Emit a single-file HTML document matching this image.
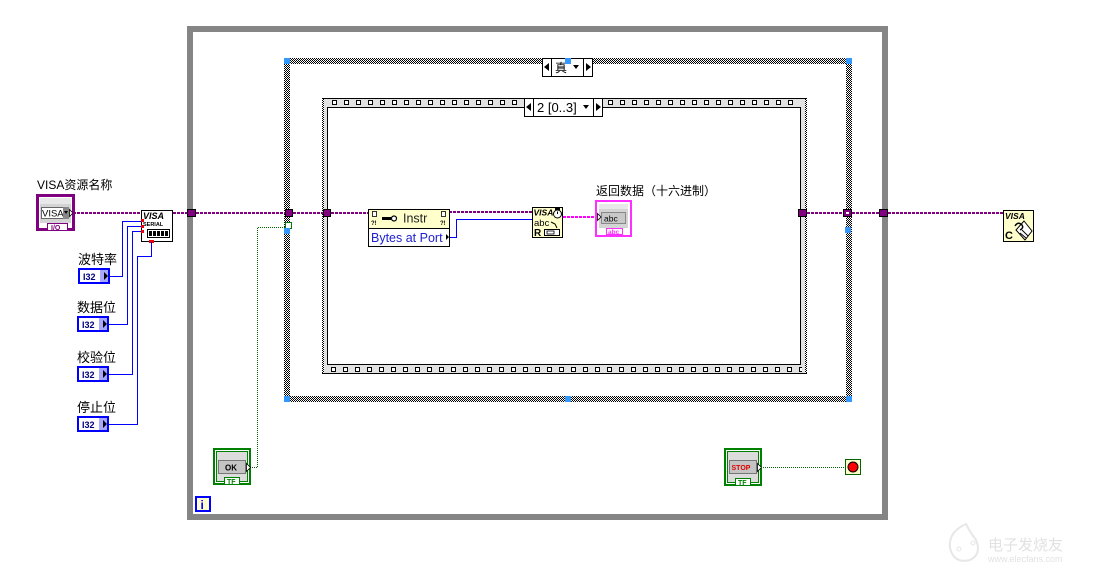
<!DOCTYPE html>
<html><head><meta charset="utf-8"><style>
html,body{margin:0;padding:0;background:#fff;}
svg{display:block;}
text{font-family:"Liberation Sans","Noto Sans CJK SC",sans-serif;}
</style></head><body>
<svg width="1096" height="576" viewBox="0 0 1096 576" xmlns="http://www.w3.org/2000/svg">
<defs>
<pattern id="chk" width="2" height="2" patternUnits="userSpaceOnUse">
<rect width="2" height="2" fill="#fff"/>
<rect width="1" height="1" fill="#000"/>
<rect x="1" y="1" width="1" height="1" fill="#000"/>
</pattern>
<pattern id="filmT" x="327" y="98" width="12" height="9" patternUnits="userSpaceOnUse">
<rect width="12" height="9" fill="#e2e2e2"/>
<rect x="5.5" y="2.5" width="4" height="4" fill="#fff" stroke="#000" stroke-width="1"/>
</pattern>
<pattern id="filmB" x="326" y="365" width="12" height="9" patternUnits="userSpaceOnUse">
<rect width="12" height="9" fill="#e2e2e2"/>
<rect x="5.5" y="2.5" width="4" height="4" fill="#fff" stroke="#000" stroke-width="1"/>
</pattern>
</defs>
<rect width="1096" height="576" fill="#fff"/>

<!-- While loop -->
<rect x="190" y="29" width="695" height="488" fill="none" stroke="#858585" stroke-width="6"/>

<!-- Case structure -->
<rect x="284" y="58" width="568" height="6" fill="url(#chk)"/>
<rect x="284" y="396" width="568" height="6" fill="url(#chk)"/>
<rect x="284" y="58" width="6" height="344" fill="url(#chk)"/>
<rect x="846" y="58" width="6" height="344" fill="url(#chk)"/>
<rect x="284" y="58" width="6" height="6" fill="#3399ff"/>
<rect x="846" y="58" width="6" height="6" fill="#3399ff"/>
<rect x="284" y="396" width="6" height="6" fill="#3399ff"/>
<rect x="846" y="396" width="6" height="6" fill="#3399ff"/>
<rect x="565" y="396" width="6" height="6" fill="#3399ff"/>

<!-- Case selector -->
<rect x="542.5" y="58.5" width="50" height="18" fill="#fff" stroke="#000"/>
<line x1="551.5" y1="58.5" x2="551.5" y2="76.5" stroke="#000"/>
<line x1="583.5" y1="58.5" x2="583.5" y2="76.5" stroke="#000"/>
<polygon points="549,63 549,71 544,67" fill="#000"/>
<polygon points="586,63 586,71 591,67" fill="#000"/>
<polygon points="573,65 579,65 576,69" fill="#000"/>
<text x="555" y="72" font-size="12" fill="#000">真</text>
<rect x="565" y="58" width="6" height="6" fill="#3399ff"/>

<!-- Sequence structure -->
<rect x="322" y="98" width="485" height="276" fill="#e2e2e2"/>
<rect x="322" y="98" width="2" height="276" fill="url(#chk)"/>
<rect x="805" y="98" width="2" height="276" fill="url(#chk)"/>
<rect x="327" y="98" width="473" height="9" fill="url(#filmT)"/>
<rect x="324" y="365" width="478" height="9" fill="url(#filmB)"/>
<line x1="322" y1="98.5" x2="807" y2="98.5" stroke="#000"/>
<line x1="322" y1="373.5" x2="807" y2="373.5" stroke="#000"/>
<rect x="327.5" y="107.5" width="473" height="257" fill="#fff" stroke="#000"/>

<!-- Sequence selector -->
<rect x="524.5" y="98.5" width="78" height="18" fill="#fff" stroke="#000"/>
<line x1="533.5" y1="98.5" x2="533.5" y2="116.5" stroke="#000"/>
<line x1="593.5" y1="98.5" x2="593.5" y2="116.5" stroke="#000"/>
<polygon points="531,103 531,111 526,107" fill="#000"/>
<polygon points="596,103 596,111 601,107" fill="#000"/>
<polygon points="583,105 589,105 586,109" fill="#000"/>
<text x="537" y="112" font-size="13" fill="#000">2 [0..3]</text>

<!-- Left controls -->
<text x="37" y="189" font-size="12" fill="#000">VISA资源名称</text>
<rect x="36" y="194" width="39" height="37" fill="#800080"/>
<rect x="38.5" y="196.5" width="34" height="32" fill="#fff" stroke="#800080"/>
<rect x="40" y="198" width="31" height="25" fill="#d4d4d4"/>
<rect x="40" y="198" width="31" height="6" fill="#e8e8e8"/>
<rect x="41.5" y="207.5" width="22" height="11" fill="#fff" stroke="#666"/>
<text x="42" y="216.5" font-size="9.5" fill="#000">VISA</text>
<rect x="63" y="207" width="6" height="12" fill="#888"/>
<polygon points="64,211 68,211 66,214" fill="#000"/>
<polygon points="69.5,209.5 69.5,216.5 73,213" fill="#fff" stroke="#000" stroke-width="0.8"/>
<rect x="47.5" y="223.5" width="20" height="7" fill="#fff" stroke="#800080"/>
<text x="51" y="230" font-size="7" font-weight="bold" fill="#800080">I/O</text>

<!-- Config serial -->
<rect x="141.5" y="210.5" width="31" height="31" fill="#fff" stroke="#000"/>
<text x="143" y="219" font-size="9" font-style="italic" font-weight="bold" fill="#000">VISA</text>
<text x="143" y="226" font-size="5.5" font-weight="bold" fill="#000">SERIAL</text>
<rect x="147.5" y="229.5" width="22" height="8" fill="#fff" stroke="#000"/>
<rect x="149" y="231" width="3" height="5" fill="#000"/>
<rect x="153" y="231" width="3" height="5" fill="#000"/>
<rect x="157" y="231" width="3" height="5" fill="#000"/>
<rect x="161" y="231" width="3" height="5" fill="#000"/>
<rect x="165" y="231" width="3" height="5" fill="#000"/>
<rect x="141" y="219" width="3" height="3" fill="#e00"/>
<rect x="141" y="225" width="3" height="3" fill="#e00"/>
<rect x="141" y="230" width="3" height="3" fill="#e00"/>
<rect x="149" y="240" width="5" height="3" fill="#e00"/>

<!-- I32 controls -->
<text x="78" y="264" font-size="13" fill="#000">波特率</text>
<text x="77" y="312" font-size="13" fill="#000">数据位</text>
<text x="77" y="362" font-size="13" fill="#000">校验位</text>
<text x="77" y="412" font-size="13" fill="#000">停止位</text>
<g>
<rect x="78" y="268" width="32" height="16" fill="#0000ff"/>
<rect x="80" y="270" width="28" height="12" fill="#fff"/>
<rect x="100" y="270" width="8" height="12" fill="#a8a8ff"/>
<text x="83" y="280" font-size="9" font-weight="bold" fill="#000080">I32</text>
<polygon points="104,272 104,280 108,276" fill="#000"/>
</g>
<g>
<rect x="77" y="316" width="32" height="16" fill="#0000ff"/>
<rect x="79" y="318" width="28" height="12" fill="#fff"/>
<rect x="99" y="318" width="8" height="12" fill="#a8a8ff"/>
<text x="82" y="328" font-size="9" font-weight="bold" fill="#000080">I32</text>
<polygon points="103,320 103,328 107,324" fill="#000"/>
</g>
<g>
<rect x="77" y="366" width="32" height="16" fill="#0000ff"/>
<rect x="79" y="368" width="28" height="12" fill="#fff"/>
<rect x="99" y="368" width="8" height="12" fill="#a8a8ff"/>
<text x="82" y="378" font-size="9" font-weight="bold" fill="#000080">I32</text>
<polygon points="103,370 103,378 107,374" fill="#000"/>
</g>
<g>
<rect x="77" y="416" width="32" height="16" fill="#0000ff"/>
<rect x="79" y="418" width="28" height="12" fill="#fff"/>
<rect x="99" y="418" width="8" height="12" fill="#a8a8ff"/>
<text x="82" y="428" font-size="9" font-weight="bold" fill="#000080">I32</text>
<polygon points="103,420 103,428 107,424" fill="#000"/>
</g>

<!-- Blue wires left -->
<g fill="none" stroke="#0000ff" stroke-width="1">
<polyline points="109,276.5 122.5,276.5 122.5,221.5 141,221.5"/>
<polyline points="108,324.5 127.5,324.5 127.5,226.5 141,226.5"/>
<polyline points="108,374.5 132.5,374.5 132.5,231.5 141,231.5"/>
<polyline points="108,424.5 137.5,424.5 137.5,256.5 151.5,256.5 151.5,242"/>
</g>

<!-- Purple wires -->
<g fill="none" stroke="#800080" stroke-width="2" stroke-dasharray="3 1">
<line x1="73" y1="213" x2="141" y2="213"/>
<line x1="173" y1="213" x2="187" y2="213"/>
<line x1="196" y1="213" x2="285" y2="213"/>
<line x1="293" y1="213" x2="323" y2="213"/>
<line x1="331" y1="213" x2="368" y2="213"/>
<line x1="449" y1="212" x2="532" y2="212"/>
<line x1="807" y1="213" x2="843" y2="213"/>
<line x1="852" y1="213" x2="879" y2="213"/>
<line x1="888" y1="213" x2="1003" y2="213"/>
</g>
<line x1="563" y1="217" x2="596" y2="217" stroke="#ff00ff" stroke-width="2" stroke-dasharray="3 1"/>

<!-- Tunnels -->
<rect x="187.5" y="209.5" width="8" height="7" fill="#800080" stroke="#000"/>
<rect x="285.5" y="209.5" width="7" height="7" fill="#800080" stroke="#000"/>
<rect x="323.5" y="209.5" width="7" height="7" fill="#800080" stroke="#000"/>
<rect x="798.5" y="209.5" width="8" height="7" fill="#800080" stroke="#000"/>
<rect x="843.5" y="209.5" width="8" height="7" fill="#800080" stroke="#000"/>
<rect x="846" y="212" width="3" height="2" fill="#fff"/>
<rect x="879.5" y="209.5" width="8" height="7" fill="#800080" stroke="#000"/>

<!-- Case selector terminal -->
<rect x="285.5" y="222.5" width="6" height="6" fill="#fff" stroke="#008000"/>
<rect x="284" y="228" width="6" height="6" fill="#3399ff"/>
<rect x="845" y="227" width="6" height="6" fill="#3399ff"/>

<!-- OK green wire -->
<polyline points="250,467.5 257.5,467.5 257.5,227.5 285,227.5" fill="none" stroke="#006400" stroke-width="1" stroke-dasharray="1 1"/>

<!-- Property node -->
<rect x="368.5" y="209.5" width="81" height="37" fill="#fff" stroke="#000"/>
<rect x="369" y="210" width="80" height="18" fill="#ffffcc"/>
<line x1="368.5" y1="228.5" x2="449.5" y2="228.5" stroke="#000"/>
<rect x="372.5" y="211.5" width="4" height="5" fill="#fff" stroke="#000" stroke-width="0.8"/>
<text x="371" y="225" font-size="6" font-weight="bold" fill="#000">?!</text>
<rect x="441.5" y="211.5" width="4" height="5" fill="#fff" stroke="#000" stroke-width="0.8"/>
<text x="440" y="225" font-size="6" font-weight="bold" fill="#000">?!</text>
<rect x="382" y="217" width="9" height="3" fill="#000"/>
<circle cx="394" cy="218.5" r="2.5" fill="#fff" stroke="#000" stroke-width="1.2"/>
<text x="403" y="222.5" font-size="12.5" fill="#222">Instr</text>
<text x="371" y="242" font-size="12.5" fill="#2020d0">Bytes at Port</text>
<polygon points="446,234 446,240 449,237" fill="#000"/>

<!-- Blue wire prop->read -->
<polyline points="450,237.5 456.5,237.5 456.5,219.5 532,219.5" fill="none" stroke="#0000ff" stroke-width="1"/>

<!-- VISA read -->
<rect x="532.5" y="207.5" width="30" height="30" fill="#ffffcc" stroke="#000"/>
<text x="533.5" y="215.5" font-size="8.5" font-style="italic" font-weight="bold" fill="#000">VISA</text>
<circle cx="557.5" cy="214" r="4" fill="#fff" stroke="#000"/>
<rect x="555" y="208" width="5" height="2" fill="#000"/>
<line x1="557.5" y1="214" x2="557.5" y2="211.5" stroke="#000"/>
<text x="534" y="226" font-size="9.5" fill="#000">abc</text>
<polyline points="551,222 555,224 557,228" fill="none" stroke="#000"/>
<text x="534" y="236" font-size="10" font-weight="bold" fill="#000">R</text>
<rect x="544.5" y="229.5" width="15" height="6" fill="#fff" stroke="#000"/>
<rect x="547" y="231" width="7" height="3" fill="none" stroke="#000" stroke-width="0.8"/>

<!-- Indicator -->
<text x="596" y="195" font-size="12" fill="#000">返回数据（十六进制）</text>
<rect x="596" y="201" width="35" height="35" fill="#fff" stroke="#ff30ff" stroke-width="2"/>
<rect x="599" y="204" width="29" height="24" fill="#d4d4d4"/>
<rect x="599" y="204" width="29" height="5" fill="#e8e8e8"/>
<rect x="601.5" y="212.5" width="24" height="11" fill="#c8c8c8" stroke="#888"/>
<text x="604" y="221.5" font-size="8.5" fill="#000">abc</text>
<polygon points="597.5,213.5 597.5,220.5 601,217" fill="#fff" stroke="#000" stroke-width="0.8"/>
<rect x="606.5" y="228.5" width="16" height="6" fill="#fff" stroke="#ff30ff"/>
<text x="608" y="234" font-size="6.5" font-weight="bold" fill="#ff30ff">abc</text>

<!-- VISA close -->
<rect x="1003.5" y="210.5" width="30" height="31" fill="#ffffcc" stroke="#000"/>
<text x="1005" y="219" font-size="8.5" font-style="italic" font-weight="bold" fill="#000">VISA</text>
<text x="1005" y="239" font-size="11" font-weight="bold" fill="#000">C</text>
<polygon points="1024,221 1032,231 1025,240 1016,230" fill="#fff" stroke="#000"/>
<path d="M1015,226 q3,-5 7,-1 q2,3 -2,5" fill="none" stroke="#000" stroke-width="1.5"/>
<line x1="1022" y1="230" x2="1028" y2="236" stroke="#000"/>
<line x1="1020" y1="233" x2="1026" y2="238" stroke="#000"/>

<!-- OK button -->
<rect x="214" y="449" width="36" height="35" fill="#fff" stroke="#008000" stroke-width="2"/>
<rect x="216.5" y="451.5" width="31" height="30" fill="#dcdcdc" stroke="#008000"/>
<rect x="218.5" y="460.5" width="27" height="13" fill="#c4c4c4" stroke="#777"/>
<text x="225" y="470.5" font-size="8" font-weight="bold" fill="#000" font-family="Liberation Mono, monospace">OK</text>
<polygon points="246.5,463.5 246.5,471.5 250.5,467.5" fill="#fff" stroke="#000" stroke-width="0.8"/>
<rect x="224.5" y="477.5" width="15" height="7" fill="#fff" stroke="#008000"/>
<text x="227" y="484" font-size="7" font-weight="bold" fill="#008000">TF</text>

<!-- STOP button -->
<rect x="725" y="449" width="36" height="36" fill="#fff" stroke="#008000" stroke-width="2"/>
<rect x="727.5" y="451.5" width="31" height="31" fill="#dcdcdc" stroke="#008000"/>
<rect x="729.5" y="460.5" width="27" height="13" fill="#c4c4c4" stroke="#777"/>
<text x="731.5" y="470" font-size="7" font-weight="bold" fill="#e00000">STOP</text>
<polygon points="757.5,463.5 757.5,471.5 761.5,467.5" fill="#fff" stroke="#000" stroke-width="0.8"/>
<rect x="735.5" y="478.5" width="15" height="7" fill="#fff" stroke="#008000"/>
<text x="738" y="485" font-size="7" font-weight="bold" fill="#008000">TF</text>
<line x1="761" y1="467.5" x2="845" y2="467.5" stroke="#006400" stroke-width="1" stroke-dasharray="1 1"/>

<!-- Stop terminal -->
<rect x="845.5" y="459.5" width="15" height="15" fill="#ffffcc" stroke="#006400"/>
<circle cx="853" cy="467" r="5" fill="#ff0000" stroke="#000" stroke-width="1"/>

<!-- Info icon -->
<rect x="196" y="497" width="14" height="14" fill="#ffffcc" stroke="#0000ff" stroke-width="2"/>
<text x="200.5" y="509" font-size="12" font-weight="bold" fill="#0000ff">i</text>

<!-- Watermark -->
<g opacity="0.35">
<path d="M966,524 q-18,8 -16,24 q4,16 20,12 q12,-6 6,-20 q-6,-8 -10,-16z" fill="none" stroke="#bbb" stroke-width="2"/>
<circle cx="959" cy="549" r="2" fill="none" stroke="#bbb"/>
<circle cx="973" cy="543" r="2" fill="none" stroke="#bbb"/>
<text x="988" y="550" font-size="15" fill="#aaa">电子发烧友</text>
<text x="988" y="562" font-size="9" fill="#aaa">www.elecfans.com</text>
</g>
</svg>
</body></html>
